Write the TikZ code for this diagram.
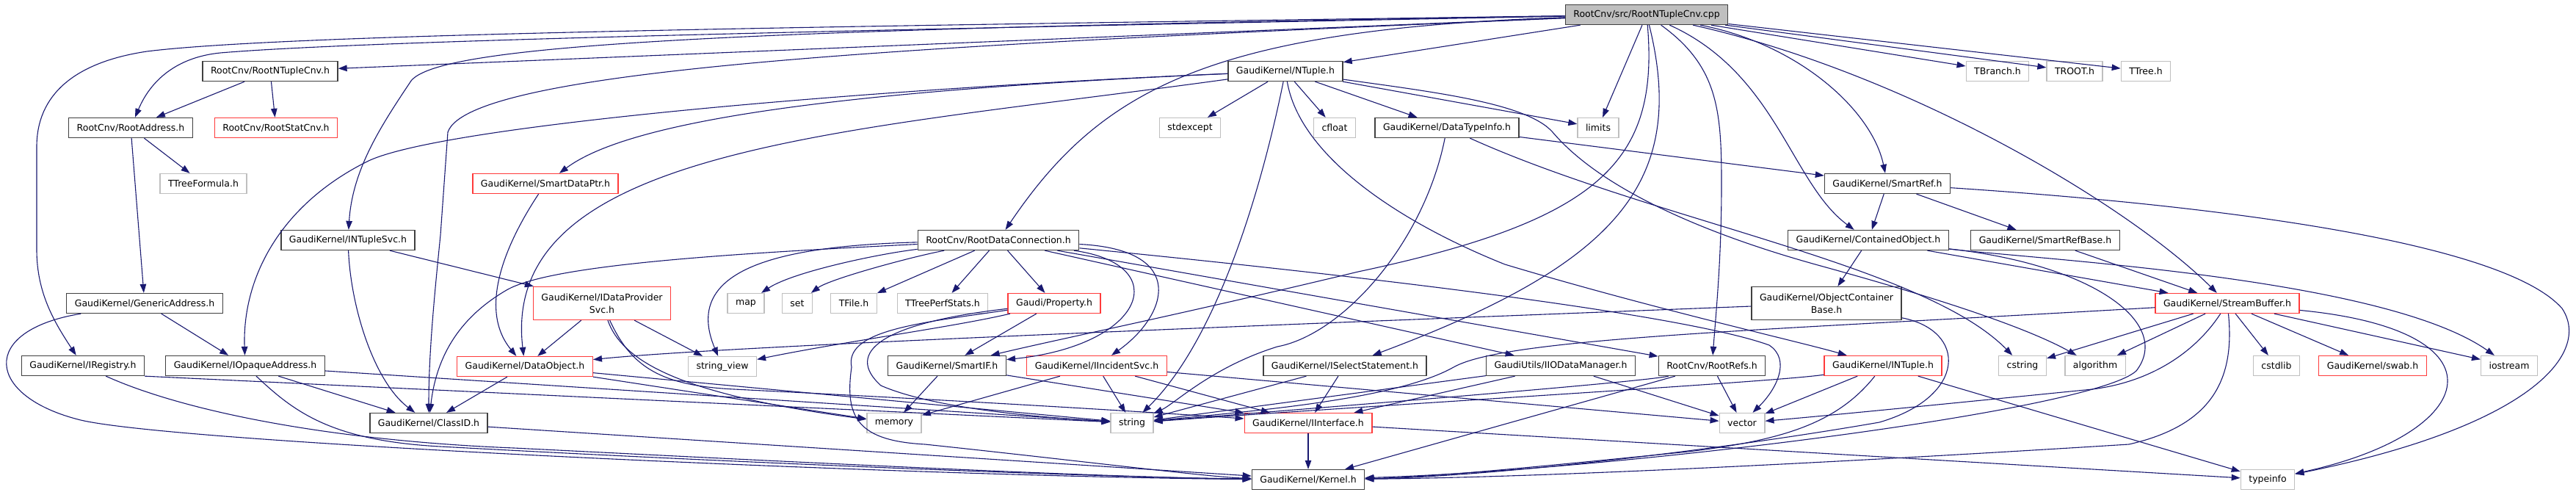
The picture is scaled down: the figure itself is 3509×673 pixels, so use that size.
\documentclass[tikz,border=0pt]{standalone}
\usepackage{fontspec}
\setmainfont{DejaVu Sans}
\usepackage{tikz}
\usetikzlibrary{arrows.meta}
\definecolor{edgeblue}{HTML}{191970}
\definecolor{nodered}{HTML}{FF3B3B}
\definecolor{nodegray}{HTML}{BFBFBF}
\definecolor{nodeblack}{HTML}{404040}
\tikzset{>={Triangle[length=12pt,width=8.5pt]}}
\tikzset{
  hdr/.style={draw=nodeblack, line width=1.3pt, fill=white, minimum height=27pt,
    inner xsep=11pt, inner ysep=0pt, align=center, font=\fontsize{12.5}{16.7}\selectfont},
  hdrred/.style={hdr, draw=nodered},
  sysh/.style={hdr, draw=nodegray},
  src/.style={hdr, fill=nodegray},
  two/.style={minimum height=45pt},
  dep/.style={->, draw=edgeblue, line width=1.1pt}
}

\begin{document}
\begin{tikzpicture}[x=1pt,y=-1pt]
  \useasboundingbox (0,0) rectangle (3509,673);

  \node[src] (cpp) at (2243,20) {RootCnv/src/RootNTupleCnv.cpp};

  \node[hdr] (ntcnv) at (368,97) {RootCnv/RootNTupleCnv.h};
  \node[hdr] (ntup) at (1751,97) {GaudiKernel/NTuple.h};
  \node[sysh] (tbr) at (2721,97) {TBranch.h};
  \node[sysh] (troot) at (2826,97) {TROOT.h};
  \node[sysh] (ttree) at (2923,97) {TTree.h};

  \node[hdr] (raddr) at (178,174) {RootCnv/RootAddress.h};
  \node[hdrred] (statcnv) at (376,174) {RootCnv/RootStatCnv.h};
  \node[sysh] (stdex) at (1621,174) {stdexcept};
  \node[sysh] (cflt) at (1818,174) {cfloat};
  \node[hdr] (dti) at (1971,174) {GaudiKernel/DataTypeInfo.h};
  \node[sysh] (lim) at (2177,174) {limits};

  \node[sysh] (ttf) at (277,250) {TTreeFormula.h};
  \node[hdrred] (sdptr) at (743,250) {GaudiKernel/SmartDataPtr.h};
  \node[hdr] (sref) at (2571,250) {GaudiKernel/SmartRef.h};

  \node[hdr] (ntsvc) at (474,327) {GaudiKernel/INTupleSvc.h};
  \node[hdr] (rdc) at (1360,327) {RootCnv/RootDataConnection.h};
  \node[hdr] (cobj) at (2545,327) {GaudiKernel/ContainedObject.h};
  \node[hdr] (srb) at (2786,327) {GaudiKernel/SmartRefBase.h};

  \node[hdr] (gaddr) at (197,413) {GaudiKernel/GenericAddress.h};
  \node[hdrred,two] (idps) at (820,413) {GaudiKernel/IDataProvider\\Svc.h};
  \node[sysh] (map) at (1016,413) {map};
  \node[sysh] (set) at (1086,413) {set};
  \node[sysh] (tfile) at (1163,413) {TFile.h};
  \node[sysh] (tperf) at (1284,413) {TTreePerfStats.h};
  \node[hdrred] (prop) at (1436,413) {Gaudi/Property.h};
  \node[hdr,two] (ocb) at (2488,413) {GaudiKernel/ObjectContainer\\Base.h};
  \node[hdrred] (sbuf) at (3034,413) {GaudiKernel/StreamBuffer.h};

  \node[hdr] (ireg) at (113,498) {GaudiKernel/IRegistry.h};
  \node[hdr] (iopaq) at (334,498) {GaudiKernel/IOpaqueAddress.h};
  \node[hdrred] (dobj) at (715,499) {GaudiKernel/DataObject.h};
  \node[sysh] (sview) at (984,499) {string\_view};
  \node[hdr] (sif) at (1290,498) {GaudiKernel/SmartIF.h};
  \node[hdrred] (iinc) at (1494,498) {GaudiKernel/IIncidentSvc.h};
  \node[hdr] (isel) at (1832,498) {GaudiKernel/ISelectStatement.h};
  \node[hdr] (iio) at (2126,498) {GaudiUtils/IIODataManager.h};
  \node[hdr] (rrefs) at (2332,498) {RootCnv/RootRefs.h};
  \node[hdrred] (intup) at (2565,498) {GaudiKernel/INTuple.h};
  \node[sysh] (cstr) at (2755,498) {cstring};
  \node[sysh] (algo) at (2854,498) {algorithm};
  \node[sysh] (cstd) at (3101,498) {cstdlib};
  \node[hdrred] (swab) at (3232,498) {GaudiKernel/swab.h};
  \node[sysh] (ios) at (3418,498) {iostream};

  \node[hdr] (clid) at (584,576) {GaudiKernel/ClassID.h};
  \node[sysh] (mem) at (1218,576) {memory};
  \node[sysh] (str) at (1542,576) {string};
  \node[hdrred] (iint) at (1782,576) {GaudiKernel/IInterface.h};
  \node[sysh] (vec) at (2373,576) {vector};

  \node[hdr] (kern) at (1782,653) {GaudiKernel/Kernel.h};
  \node[sysh] (tinfo) at (3089,653) {typeinfo};

  \draw[dep] (cpp) -- (ntcnv);
  \draw[dep] (cpp) .. controls (1200,40) and (500,55) .. (300,72) .. controls (240,78) and (205,110) .. (raddr);
  \draw[dep] (cpp) .. controls (1200,35) and (400,45) .. (200,70) .. controls (100,85) and (50,130) .. (50,200) -- (50,340) .. controls (50,400) and (75,440) .. (ireg);
  \draw[dep] (cpp) .. controls (1000,40) and (600,60) .. (560,110) .. controls (520,170) and (480,230) .. (ntsvc);
  \draw[dep] (cpp) .. controls (1300,60) and (640,90) .. (610,180) -- (600,320) .. controls (592,400) and (584,480) .. (clid);
  \draw[dep] (cpp) .. controls (1650,40) and (1500,120) .. (rdc);
  \draw[dep] (cpp) -- (ntup);
  \draw[dep] (cpp) -- (lim);
  \draw[dep] (cpp) .. controls (2260,220) and (2180,300) .. (1850,370) .. controls (1600,430) and (1450,460) .. (sif);
  \draw[dep] (cpp) .. controls (2300,250) and (2200,360) .. (isel);
  \draw[dep] (cpp) .. controls (2340,90) and (2345,150) .. (2345,250) .. controls (2345,350) and (2338,420) .. (rrefs);
  \draw[dep] (cpp) .. controls (2420,100) and (2440,250) .. (cobj);
  \draw[dep] (cpp) .. controls (2450,60) and (2550,150) .. (sref);
  \draw[dep] (cpp) .. controls (2600,100) and (2900,280) .. (sbuf);
  \draw[dep] (cpp) -- (tbr);
  \draw[dep] (cpp) -- (troot);
  \draw[dep] (cpp) -- (ttree);

  \draw[dep] (ntcnv) -- (raddr);
  \draw[dep] (ntcnv) -- (statcnv);
  \draw[dep] (raddr) -- (ttf);
  \draw[dep] (raddr) -- (gaddr);
  \draw[dep] (gaddr) -- (iopaq);
  \draw[dep] (gaddr) .. controls (-30,450) and (-20,540) .. (110,572) .. controls (250,605) and (1300,650) .. (kern);
  \draw[dep] (ireg) .. controls (250,560) and (450,600) .. (700,610) .. controls (1100,630) and (1500,650) .. (kern);
  \draw[dep] (ireg.south east) -- (str);
  \draw[dep] (iopaq) -- (clid);
  \draw[dep] (iopaq) -- (str);
  \draw[dep] (iopaq) .. controls (400,560) and (450,600) .. (600,608) .. controls (1000,630) and (1500,650) .. (kern);
  \draw[dep] (clid) -- (kern);
  \draw[dep] (ntsvc) .. controls (478,420) and (510,520) .. (clid);
  \draw[dep] (ntsvc) -- (idps);
  \draw[dep] (idps) -- (dobj);
  \draw[dep] (idps) -- (sview);
  \draw[dep] (idps) .. controls (850,500) and (950,540) .. (mem);
  \draw[dep] (idps) .. controls (860,500) and (900,525) .. (1000,530) .. controls (1300,545) and (1550,560) .. (iint);
  \draw[dep] (sdptr) .. controls (690,330) and (650,420) .. (dobj);
  \draw[dep] (dobj) -- (clid);
  \draw[dep] (dobj) -- (mem);
  \draw[dep] (dobj) -- (str);

  \draw[dep] (ntup) .. controls (1150,180) and (680,200) .. (dobj);
  \draw[dep] (ntup) .. controls (1200,120) and (600,170) .. (500,220) .. controls (380,280) and (330,380) .. (iopaq);
  \draw[dep] (ntup) .. controls (1100,125) and (850,170) .. (sdptr);
  \draw[dep] (ntup) -- (stdex);
  \draw[dep] (ntup) -- (cflt);
  \draw[dep] (ntup) -- (dti);
  \draw[dep] (ntup) -- (lim);
  \draw[dep] (ntup) .. controls (1950,125) and (2080,140) .. (2115,180) .. controls (2200,280) and (2400,340) .. (2480,362) .. controls (2600,395) and (2750,440) .. (algo);
  \draw[dep] (ntup) .. controls (1770,210) and (1900,300) .. (2050,360) .. controls (2250,420) and (2450,465) .. (intup);
  \draw[dep] (ntup) .. controls (1720,250) and (1660,460) .. (str);
  \draw[dep] (dti) -- (sref);
  \draw[dep] (dti) .. controls (1940,330) and (1830,455) .. (1740,472) .. controls (1650,500) and (1600,550) .. (str);
  \draw[dep] (dti) .. controls (2250,300) and (2620,360) .. (cstr);

  \draw[dep] (rdc) .. controls (1200,345) and (1080,370) .. (map);
  \draw[dep] (rdc) .. controls (1240,350) and (1130,380) .. (set);
  \draw[dep] (rdc) -- (tfile);
  \draw[dep] (rdc) -- (tperf);
  \draw[dep] (rdc) -- (prop);
  \draw[dep] (rdc) .. controls (1050,335) and (930,370) .. (sview);
  \draw[dep] (rdc) .. controls (1000,345) and (750,360) .. (690,395) .. controls (630,430) and (595,480) .. (clid);
  \draw[dep] (rdc) .. controls (1600,360) and (1560,470) .. (sif);
  \draw[dep] (rdc) .. controls (1620,340) and (1590,430) .. (iinc);
  \draw[dep] (rdc) -- (iio);
  \draw[dep] (rdc) -- (rrefs);
  \draw[dep] (rdc) .. controls (1900,380) and (2300,430) .. (2410,470) .. controls (2440,490) and (2420,530) .. (vec);

  \draw[dep] (prop) -- (sif);
  \draw[dep] (prop) .. controls (1300,445) and (1150,465) .. (sview);
  \draw[dep] (prop) .. controls (1200,440) and (1150,480) .. (1200,525) .. controls (1280,560) and (1450,570) .. (str);
  \draw[dep] (prop) .. controls (1250,440) and (1150,450) .. (1160,500) .. controls (1150,570) and (1170,600) .. (1260,605) .. controls (1450,625) and (1650,650) .. (kern);
  \draw[dep] (sif) -- (mem);
  \draw[dep] (sif) -- (iint);
  \draw[dep] (iinc) -- (mem);
  \draw[dep] (iinc) -- (str);
  \draw[dep] (iinc) -- (iint);
  \draw[dep] (iinc) -- (vec);
  \draw[dep] (isel) -- (iint);
  \draw[dep] (isel) -- (str);
  \draw[dep] (iio) -- (iint);
  \draw[dep] (iio) -- (str);
  \draw[dep] (iio) -- (vec);
  \draw[dep] (rrefs) -- (vec);
  \draw[dep] (rrefs) .. controls (2240,520) and (1800,555) .. (str);
  \draw[dep] (rrefs) -- (kern);
  \draw[dep] (intup) -- (vec);
  \draw[dep] (intup) .. controls (2420,520) and (1900,550) .. (str);
  \draw[dep] (intup) .. controls (2500,580) and (2420,600) .. (2300,615) .. controls (2100,635) and (1950,650) .. (kern);
  \draw[dep] (intup) -- (tinfo);
  \draw[dep] (iint) -- (kern);
  \draw[dep] (iint) -- (tinfo);

  \draw[dep] (ocb) .. controls (1800,440) and (1000,470) .. (dobj);
  \draw[dep] (ocb) .. controls (2680,450) and (2680,540) .. (2560,575) .. controls (2300,620) and (2000,650) .. (kern);
  \draw[dep] (cobj) -- (ocb);
  \draw[dep] (cobj) -- (sbuf);
  \draw[dep] (cobj) .. controls (2800,355) and (3250,380) .. (ios);
  \draw[dep] (cobj) .. controls (2850,360) and (2960,440) .. (2910,505) .. controls (2850,560) and (2200,640) .. (kern);
  \draw[dep] (sref) -- (cobj);
  \draw[dep] (sref) -- (srb);
  \draw[dep] (sref) .. controls (3100,285) and (3420,340) .. (3490,420) .. controls (3530,480) and (3450,580) .. (tinfo);
  \draw[dep] (srb) -- (sbuf);

  \draw[dep] (sbuf) -- (cstd);
  \draw[dep] (sbuf) -- (swab);
  \draw[dep] (sbuf) -- (ios);
  \draw[dep] (sbuf) .. controls (3420,450) and (3380,590) .. (tinfo);
  \draw[dep] (sbuf) -- (cstr);
  \draw[dep] (sbuf) -- (algo);
  \draw[dep] (sbuf) .. controls (2990,480) and (2930,520) .. (2850,530) .. controls (2700,545) and (2500,565) .. (vec);
  \draw[dep] (sbuf) .. controls (2400,450) and (2050,460) .. (1980,500) .. controls (1900,545) and (1700,560) .. (str);
  \draw[dep] (sbuf) .. controls (3045,520) and (3010,580) .. (2900,605) .. controls (2500,630) and (2100,650) .. (kern);

\end{tikzpicture}
\end{document}
